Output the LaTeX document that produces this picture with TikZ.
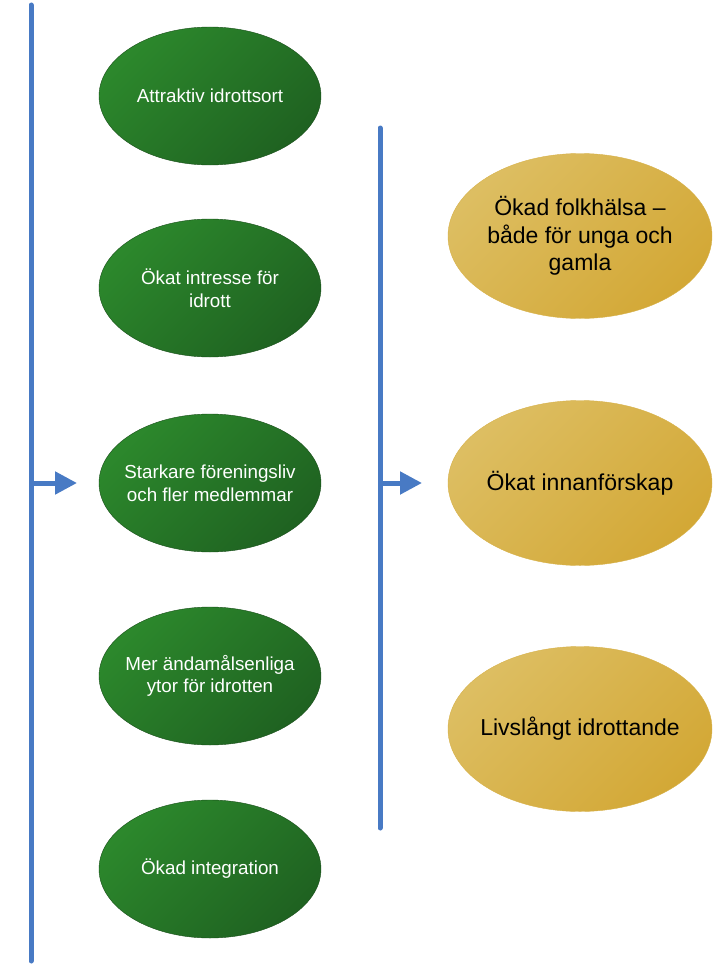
\documentclass[tikz,border=0pt]{standalone}
\usepackage{fontspec}
\setmainfont{Liberation Sans}
\usetikzlibrary{shapes.geometric,arrows.meta}
\definecolor{barblue}{RGB}{72,122,196}
\definecolor{greenA}{RGB}{44,136,44}
\definecolor{greenB}{RGB}{31,98,33}
\definecolor{goldA}{RGB}{221,190,98}
\definecolor{goldB}{RGB}{211,168,54}
\tikzset{
    bar/.style={barblue, line width=5pt, line cap=round},
    feed/.style={barblue, line width=5pt, -{Triangle[length=22pt,width=22pt]}},
    effect/.style={ellipse, draw=greenB!80!black, line width=0.4pt, top color=greenA, bottom color=greenB, shading angle=45,
        minimum width=222pt, minimum height=138pt, inner sep=-40pt, text=white, align=center,
        font=\fontsize{18.8}{22.7}\selectfont},
    goal/.style={ellipse, draw=goldB!90!white, line width=0.4pt, top color=goldA, bottom color=goldB, shading angle=45,
        minimum width=264pt, minimum height=165pt, inner sep=-40pt, text=black, align=center,
        font=\fontsize{23}{27.5}\selectfont}
}
\begin{document}
\begin{tikzpicture}[x=1pt,y=-1pt]
        \useasboundingbox (0,0) rectangle (718,966);
        % left bar and arrow
        \coordinate (L1) at (31,5);
        \coordinate (L2) at (31,961);
        \coordinate (La) at (31,483);
        \coordinate (Lb) at (77,483);
        \draw[bar] (L1) -- (L2);
        \draw[feed] (La) -- (Lb);
        % right bar and arrow
        \coordinate (R1) at (380,128);
        \coordinate (R2) at (380,828);
        \coordinate (Ra) at (380,483);
        \coordinate (Rb) at (422,483);
        \draw[bar] (R1) -- (R2);
        \draw[feed] (Ra) -- (Rb);
        % effects
        \foreach \n/\y/\t in {g1/96/{Attraktiv idrottsort},
                              g2/288/{Ökat intresse för\\idrott},
                              g3/483/{Starkare föreningsliv\\och fler medlemmar},
                              g4/676/{Mer ändamålsenliga\\ytor för idrotten},
                              g5/869/{Ökad integration}} {
            \node[effect] (\n) at (210,\y) {\t};
        };
        % goals
        \foreach \n/\y/\t in {y1/236/{Ökad folkhälsa –\\både för unga och\\gamla},
                              y2/483/{Ökat innanförskap},
                              y3/729/{Livslångt idrottande}} {
            \node[goal] (\n) at (580,\y) {\t};
        };
    \end{tikzpicture}
\end{document}
